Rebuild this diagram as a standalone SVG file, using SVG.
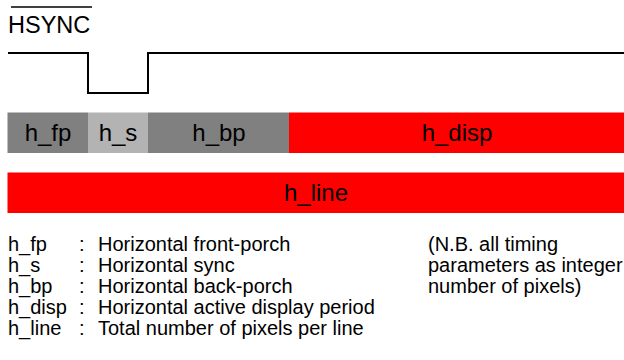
<svg xmlns="http://www.w3.org/2000/svg" width="624" height="360" viewBox="0 0 624 360">
<style>
text{font-family:"Liberation Sans",Arial,sans-serif;fill:#000}
.bar{font-size:24px;text-anchor:middle}
.lg{font-size:20px}
.wave{fill:none;stroke:#000;stroke-width:2}
</style>
<rect width="624" height="360" fill="#fff"/>
<g id="hsync-label">
<text x="8" y="33" font-size="23.5">HSYNC</text>
<line x1="11" y1="7" x2="92" y2="7" stroke="#000" stroke-width="1.5"/>
</g>
<g id="waveform">
<polyline class="wave" points="8,53 88,53 88,93 148,93 148,53 624,53"/>
</g>
<g id="h_fp"><rect x="7.5" y="112.5" width="80.5" height="40.5" fill="#808080"/><text class="bar" x="48" y="141">h_fp</text></g>
<g id="h_s"><rect x="88" y="112.5" width="60" height="40.5" fill="#b3b3b3"/><text class="bar" x="118" y="141">h_s</text></g>
<g id="h_bp"><rect x="148" y="112.5" width="141" height="40.5" fill="#808080"/><text class="bar" x="219" y="141">h_bp</text></g>
<g id="h_disp"><rect x="289" y="112.5" width="335" height="40.5" fill="#ff0000"/><text class="bar" x="457" y="141">h_disp</text></g>
<g id="h_line"><rect x="7.5" y="172.5" width="616.5" height="40.5" fill="#ff0000"/><text class="bar" x="316" y="201">h_line</text></g>
<g id="legend">
<text class="lg" x="8" y="251">h_fp</text><text class="lg" x="79" y="251">:</text><text class="lg" x="98" y="251">Horizontal front-porch</text>
<text class="lg" x="8" y="272">h_s</text><text class="lg" x="79" y="272">:</text><text class="lg" x="98" y="272">Horizontal sync</text>
<text class="lg" x="8" y="293">h_bp</text><text class="lg" x="79" y="293">:</text><text class="lg" x="98" y="293">Horizontal back-porch</text>
<text class="lg" x="8" y="314">h_disp</text><text class="lg" x="79" y="314">:</text><text class="lg" x="98" y="314">Horizontal active display period</text>
<text class="lg" x="8" y="335">h_line</text><text class="lg" x="79" y="335">:</text><text class="lg" x="98" y="335">Total number of pixels per line</text>
<text class="lg" x="428" y="251">(N.B. all timing</text>
<text class="lg" x="428" y="272">parameters as integer</text>
<text class="lg" x="428" y="293">number of pixels)</text>
</g>
</svg>
